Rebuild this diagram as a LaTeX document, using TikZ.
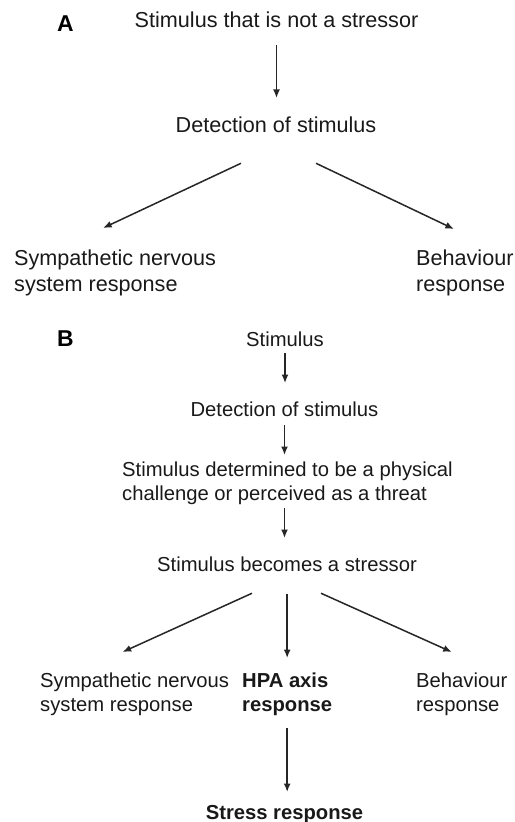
\documentclass[tikz,border=0pt]{standalone}
\usepackage{fontspec}
\setmainfont{Liberation Sans}
\usetikzlibrary{arrows.meta, calc}

\begin{document}
\begin{tikzpicture}[x=1bp, y=-1bp,
    txta/.style={inner sep=0pt, text=black!90, font=\fontsize{21.7}{25.5}\selectfont},
    txtb/.style={inner sep=0pt, text=black!90, font=\fontsize{20.3}{24}\selectfont},
    panel/.style={inner sep=0pt, anchor=north west, font=\fontsize{23}{23}\selectfont\bfseries},
    arr/.style={-{Latex[length=8.5bp, width=7bp]}, line width=1.5bp, draw=black!85}]
  \useasboundingbox (0,0) rectangle (515,822);

  % Panel A: stimulus that is not a stressor
  \node[panel] (labA) at (57,16) {A};
  \node[txta, anchor=north] (stimA) at (276.5,12) {Stimulus that is not a stressor};
  \node[txta, anchor=north] (detA) at (276,117) {Detection of stimulus};
  \node[txta, anchor=north west, align=left] (snsA) at (14,250) {Sympathetic nervous\\system response};
  \node[txta, anchor=north west, align=left] (behA) at (416,250) {Behaviour\\response};

  \draw[arr, shorten <=17bp, shorten >=19bp] (stimA.south) -- (stimA.south |- detA.north);
  \draw[arr] ($(detA.south)+(-35,30)$) -- ($(snsA.north)+(-12,-22)$);
  \draw[arr] ($(detA.south)+(40,30)$) -- ($(behA.north)+(-11,-21)$);

  % Panel B: stimulus becomes a stressor
  \node[panel] (labB) at (57,331) {B};
  \node[txtb, anchor=north] (stimB) at (285,332) {Stimulus};
  \node[txtb, anchor=north] (detB) at (284.5,402) {Detection of stimulus};
  \node[txtb, anchor=north west, align=left] (chalB) at (122,462) {Stimulus determined to be a physical\\challenge or perceived as a threat};
  \node[txtb, anchor=north] (strB) at (287,557) {Stimulus becomes a stressor};
  \node[txtb, anchor=north west, align=left] (snsB) at (40,673) {Sympathetic nervous\\system response};
  \node[txtb, anchor=north west, align=left, font=\fontsize{20.3}{24}\selectfont\bfseries] (hpaB) at (242,673) {HPA axis\\response};
  \node[txtb, anchor=north west, align=left] (behB) at (416,673) {Behaviour\\response};
  \node[txtb, anchor=north, font=\fontsize{20.3}{24}\selectfont\bfseries] (stressB) at (284.5,805) {Stress response};

  \draw[arr, shorten <=6bp, shorten >=19bp] (stimB.south) -- (stimB.south |- detB.north);
  \draw[arr, shorten <=8bp, shorten >=7bp] (detB.south) -- (detB.south |- chalB.north);
  \draw[arr, shorten <=3bp, shorten >=19bp] (chalB.south -| detB.south) -- (detB.south |- strB.north);
  % three branches
  \draw[arr] ($(strB.south)+(-35,21)$) -- ($(snsB.north)+(-12,-21)$);
  \draw[arr, shorten <=22bp, shorten >=15bp] (strB.south -| hpaB.north) -- (hpaB.north);
  \draw[arr] ($(strB.south)+(34,21)$) -- ($(behB.north)+(-10,-21)$);
  \draw[arr, shorten <=12bp, shorten >=13bp] (hpaB.south) -- (hpaB.south |- stressB.north);
\end{tikzpicture}
\end{document}
